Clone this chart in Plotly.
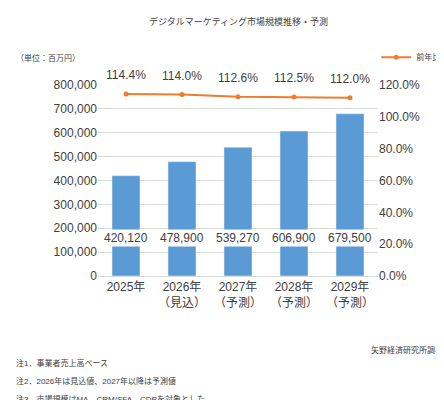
import plotly.graph_objects as go

categories = ["2025年", "2026年<br>（見込）", "2027年<br>（予測）", "2028年<br>（予測）", "2029年<br>（予測）"]
market = [420120, 478900, 539270, 606900, 679500]
yoy = [114.4, 114.0, 112.6, 112.5, 112.0]

F = "Liberation Sans, Noto Sans CJK JP"
fig = go.Figure()
fig.add_bar(x=categories, y=market, marker_color="#5b9bd5", width=0.5, showlegend=False)
fig.add_scatter(x=categories, y=yoy, yaxis="y2", mode="lines+markers", name="前年比",
                line=dict(color="#ed7d31", width=2), marker=dict(size=5, color="#ed7d31"))
for c, v in zip(categories, market):
    fig.add_annotation(x=c, y=160000, text=f"{v:,}", showarrow=False, bgcolor="white",
                       font=dict(size=12, color="#404040", family=F))
for c, v in zip(categories, yoy):
    fig.add_annotation(x=c, y=v, yref="y2", text=f"{v:.1f}%", showarrow=False, yshift=19,
                       font=dict(size=12, color="#404040", family=F))
fig.add_annotation(xref="paper", yref="paper", x=0.5, y=1.0, yanchor="bottom", xanchor="center",
                   text="デジタルマーケティング市場規模推移・予測", showarrow=False, yshift=56,
                   font=dict(size=9, color="#404040", family=F))
fig.add_annotation(xref="paper", yref="paper", x=-0.3, y=1.0, xanchor="left", yanchor="bottom",
                   text="（単位：百万円）", showarrow=False, yshift=20,
                   font=dict(size=8, color="#404040", family=F))
fig.add_annotation(xref="paper", yref="paper", x=1.24, y=0, xanchor="right", yanchor="middle",
                   text="矢野経済研究所調べ", showarrow=False, yshift=-74,
                   font=dict(size=8, color="#404040", family=F))
notes = ["注1．事業者売上高ベース", "注2．2026年は見込値、2027年以降は予測値", "注3．市場規模はMA、CRM/SFA、CDPを対象とした。"]
for i, n in enumerate(notes):
    fig.add_annotation(xref="paper", yref="paper", x=-0.3, y=0, xanchor="left", yanchor="middle",
                       text=n, showarrow=False, yshift=-87 - 18 * i,
                       font=dict(size=8, color="#404040", family=F))
fig.update_layout(
    width=444, height=400, plot_bgcolor="white", paper_bgcolor="white",
    margin=dict(l=90, r=74, t=77, b=132, autoexpand=False), bargap=0.5,
    font=dict(family=F, color="#404040", size=12),
    xaxis=dict(showline=True, linecolor="#d9d9d9", tickfont=dict(size=12), automargin=False),
    yaxis=dict(range=[0, 800000], dtick=100000, tickformat=",", gridcolor="#d9d9d9",
               zeroline=False, automargin=False),
    yaxis2=dict(range=[0, 120], dtick=20, overlaying="y", side="right", ticksuffix="%",
                tickformat=".1f", showgrid=False, automargin=False),
    legend=dict(x=1.24, y=1.07, xanchor="right", yanchor="bottom", font=dict(size=8)),
)
fig.write_html("out.html")
